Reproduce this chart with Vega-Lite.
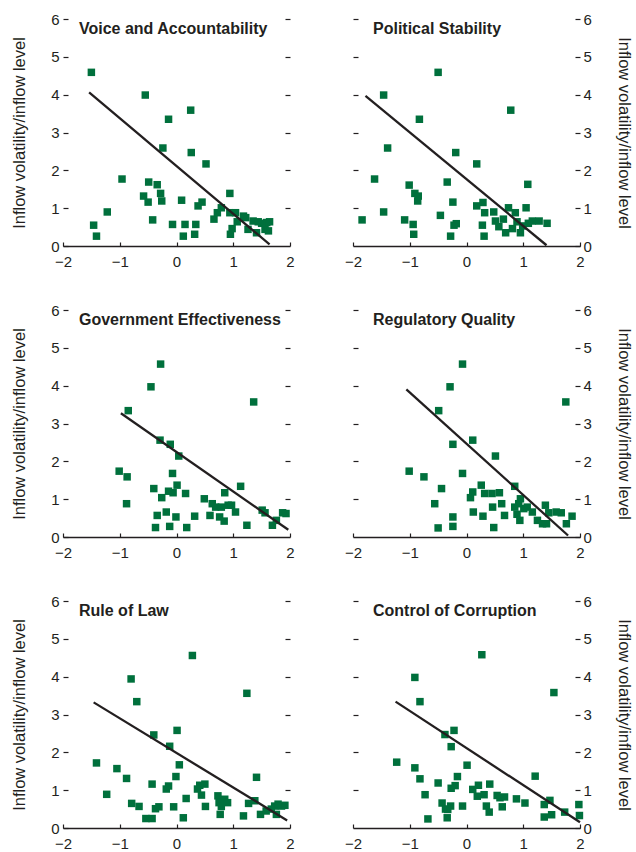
{
  "$schema": "https://vega.github.io/schema/vega-lite/v6.json",
  "background": "white",
  "padding": {"left": 11, "top": 12, "right": 4, "bottom": 0},
  "datasets": {
    "pts": [
      {"panel": "VA", "x": -1.5, "y": 4.59}, {"panel": "VA", "x": -1.46, "y": 0.55}, {"panel": "VA", "x": -1.41, "y": 0.26}, {"panel": "VA", "x": -1.22, "y": 0.9}, {"panel": "VA", "x": -0.96, "y": 1.77}, {"panel": "VA", "x": -0.55, "y": 3.99}, {"panel": "VA", "x": -0.58, "y": 1.32}, {"panel": "VA", "x": -0.5, "y": 1.16}, {"panel": "VA", "x": -0.49, "y": 1.69}, {"panel": "VA", "x": -0.42, "y": 0.69}, {"panel": "VA", "x": -0.34, "y": 1.62}, {"panel": "VA", "x": -0.28, "y": 1.39}, {"panel": "VA", "x": -0.26, "y": 1.19}, {"panel": "VA", "x": -0.24, "y": 2.59}, {"panel": "VA", "x": -0.14, "y": 3.35}, {"panel": "VA", "x": -0.07, "y": 0.57}, {"panel": "VA", "x": 0.09, "y": 1.21}, {"panel": "VA", "x": 0.12, "y": 0.26}, {"panel": "VA", "x": 0.15, "y": 0.57}, {"panel": "VA", "x": 0.25, "y": 3.59}, {"panel": "VA", "x": 0.26, "y": 2.47}, {"panel": "VA", "x": 0.32, "y": 0.31}, {"panel": "VA", "x": 0.34, "y": 0.57}, {"panel": "VA", "x": 0.38, "y": 1.06}, {"panel": "VA", "x": 0.45, "y": 1.16}, {"panel": "VA", "x": 0.52, "y": 2.17}, {"panel": "VA", "x": 0.66, "y": 0.71}, {"panel": "VA", "x": 0.72, "y": 0.88}, {"panel": "VA", "x": 0.79, "y": 1.01}, {"panel": "VA", "x": 0.94, "y": 1.39}, {"panel": "VA", "x": 0.94, "y": 0.88}, {"panel": "VA", "x": 0.95, "y": 0.31}, {"panel": "VA", "x": 0.98, "y": 0.46}, {"panel": "VA", "x": 1.04, "y": 0.88}, {"panel": "VA", "x": 1.07, "y": 0.64}, {"panel": "VA", "x": 1.18, "y": 0.79}, {"panel": "VA", "x": 1.22, "y": 0.75}, {"panel": "VA", "x": 1.26, "y": 0.44}, {"panel": "VA", "x": 1.35, "y": 0.66}, {"panel": "VA", "x": 1.41, "y": 0.35}, {"panel": "VA", "x": 1.44, "y": 0.64}, {"panel": "VA", "x": 1.5, "y": 0.6}, {"panel": "VA", "x": 1.56, "y": 0.44}, {"panel": "VA", "x": 1.59, "y": 0.62}, {"panel": "VA", "x": 1.64, "y": 0.64}, {"panel": "VA", "x": 1.62, "y": 0.4},
      {"panel": "PS", "x": -1.84, "y": 0.69}, {"panel": "PS", "x": -1.62, "y": 1.77}, {"panel": "PS", "x": -1.46, "y": 0.9}, {"panel": "PS", "x": -1.46, "y": 3.99}, {"panel": "PS", "x": -1.39, "y": 2.59}, {"panel": "PS", "x": -1.09, "y": 0.69}, {"panel": "PS", "x": -1.01, "y": 1.61}, {"panel": "PS", "x": -0.94, "y": 0.57}, {"panel": "PS", "x": -0.93, "y": 0.31}, {"panel": "PS", "x": -0.91, "y": 1.39}, {"panel": "PS", "x": -0.85, "y": 1.32}, {"panel": "PS", "x": -0.86, "y": 1.19}, {"panel": "PS", "x": -0.83, "y": 3.35}, {"panel": "PS", "x": -0.5, "y": 4.59}, {"panel": "PS", "x": -0.46, "y": 0.81}, {"panel": "PS", "x": -0.34, "y": 1.69}, {"panel": "PS", "x": -0.28, "y": 0.26}, {"panel": "PS", "x": -0.24, "y": 1.16}, {"panel": "PS", "x": -0.22, "y": 0.55}, {"panel": "PS", "x": -0.19, "y": 2.47}, {"panel": "PS", "x": -0.18, "y": 0.59}, {"panel": "PS", "x": 0.18, "y": 2.17}, {"panel": "PS", "x": 0.18, "y": 1.06}, {"panel": "PS", "x": 0.28, "y": 0.55}, {"panel": "PS", "x": 0.29, "y": 1.15}, {"panel": "PS", "x": 0.32, "y": 0.88}, {"panel": "PS", "x": 0.31, "y": 0.26}, {"panel": "PS", "x": 0.48, "y": 0.9}, {"panel": "PS", "x": 0.51, "y": 0.66}, {"panel": "PS", "x": 0.57, "y": 0.51}, {"panel": "PS", "x": 0.65, "y": 0.71}, {"panel": "PS", "x": 0.69, "y": 0.35}, {"panel": "PS", "x": 0.74, "y": 1.01}, {"panel": "PS", "x": 0.78, "y": 3.59}, {"panel": "PS", "x": 0.81, "y": 0.46}, {"panel": "PS", "x": 0.86, "y": 0.88}, {"panel": "PS", "x": 0.89, "y": 0.64}, {"panel": "PS", "x": 0.95, "y": 0.35}, {"panel": "PS", "x": 0.99, "y": 0.53}, {"panel": "PS", "x": 1.05, "y": 1.01}, {"panel": "PS", "x": 1.08, "y": 1.63}, {"panel": "PS", "x": 1.09, "y": 0.6}, {"panel": "PS", "x": 1.16, "y": 0.66}, {"panel": "PS", "x": 1.28, "y": 0.66}, {"panel": "PS", "x": 1.42, "y": 0.6},
      {"panel": "GE", "x": -1.01, "y": 1.74}, {"panel": "GE", "x": -0.87, "y": 1.59}, {"panel": "GE", "x": -0.88, "y": 0.88}, {"panel": "GE", "x": -0.85, "y": 3.34}, {"panel": "GE", "x": -0.45, "y": 3.97}, {"panel": "GE", "x": -0.4, "y": 1.28}, {"panel": "GE", "x": -0.37, "y": 0.25}, {"panel": "GE", "x": -0.34, "y": 0.57}, {"panel": "GE", "x": -0.28, "y": 4.57}, {"panel": "GE", "x": -0.29, "y": 2.56}, {"panel": "GE", "x": -0.26, "y": 1.04}, {"panel": "GE", "x": -0.18, "y": 0.66}, {"panel": "GE", "x": -0.14, "y": 1.21}, {"panel": "GE", "x": -0.12, "y": 0.28}, {"panel": "GE", "x": -0.11, "y": 2.45}, {"panel": "GE", "x": -0.07, "y": 1.68}, {"panel": "GE", "x": -0.06, "y": 1.17}, {"panel": "GE", "x": -0.01, "y": 0.53}, {"panel": "GE", "x": 0.01, "y": 1.37}, {"panel": "GE", "x": 0.04, "y": 2.14}, {"panel": "GE", "x": 0.16, "y": 1.15}, {"panel": "GE", "x": 0.18, "y": 0.25}, {"panel": "GE", "x": 0.32, "y": 0.55}, {"panel": "GE", "x": 0.49, "y": 1.01}, {"panel": "GE", "x": 0.59, "y": 0.57}, {"panel": "GE", "x": 0.63, "y": 0.88}, {"panel": "GE", "x": 0.69, "y": 0.79}, {"panel": "GE", "x": 0.76, "y": 0.53}, {"panel": "GE", "x": 0.79, "y": 0.79}, {"panel": "GE", "x": 0.84, "y": 0.42}, {"panel": "GE", "x": 0.85, "y": 1.17}, {"panel": "GE", "x": 0.91, "y": 0.84}, {"panel": "GE", "x": 0.97, "y": 0.84}, {"panel": "GE", "x": 1.04, "y": 0.66}, {"panel": "GE", "x": 1.13, "y": 1.34}, {"panel": "GE", "x": 1.24, "y": 0.31}, {"panel": "GE", "x": 1.36, "y": 3.57}, {"panel": "GE", "x": 1.51, "y": 0.71}, {"panel": "GE", "x": 1.56, "y": 0.64}, {"panel": "GE", "x": 1.69, "y": 0.31}, {"panel": "GE", "x": 1.76, "y": 0.44}, {"panel": "GE", "x": 1.87, "y": 0.64}, {"panel": "GE", "x": 1.93, "y": 0.62},
      {"panel": "RQ", "x": -1.01, "y": 1.74}, {"panel": "RQ", "x": -0.75, "y": 1.59}, {"panel": "RQ", "x": -0.56, "y": 0.88}, {"panel": "RQ", "x": -0.5, "y": 0.24}, {"panel": "RQ", "x": -0.49, "y": 3.34}, {"panel": "RQ", "x": -0.44, "y": 1.28}, {"panel": "RQ", "x": -0.29, "y": 3.97}, {"panel": "RQ", "x": -0.24, "y": 0.53}, {"panel": "RQ", "x": -0.24, "y": 0.28}, {"panel": "RQ", "x": -0.24, "y": 2.45}, {"panel": "RQ", "x": -0.07, "y": 4.57}, {"panel": "RQ", "x": -0.07, "y": 1.68}, {"panel": "RQ", "x": 0.07, "y": 1.04}, {"panel": "RQ", "x": 0.11, "y": 1.19}, {"panel": "RQ", "x": 0.11, "y": 2.56}, {"panel": "RQ", "x": 0.12, "y": 0.66}, {"panel": "RQ", "x": 0.26, "y": 1.37}, {"panel": "RQ", "x": 0.29, "y": 0.55}, {"panel": "RQ", "x": 0.32, "y": 1.15}, {"panel": "RQ", "x": 0.45, "y": 1.15}, {"panel": "RQ", "x": 0.46, "y": 0.79}, {"panel": "RQ", "x": 0.48, "y": 0.25}, {"panel": "RQ", "x": 0.51, "y": 2.14}, {"panel": "RQ", "x": 0.58, "y": 1.17}, {"panel": "RQ", "x": 0.62, "y": 0.88}, {"panel": "RQ", "x": 0.67, "y": 0.57}, {"panel": "RQ", "x": 0.85, "y": 0.79}, {"panel": "RQ", "x": 0.85, "y": 1.34}, {"panel": "RQ", "x": 0.89, "y": 0.6}, {"panel": "RQ", "x": 0.92, "y": 0.88}, {"panel": "RQ", "x": 0.94, "y": 0.44}, {"panel": "RQ", "x": 0.95, "y": 1.01}, {"panel": "RQ", "x": 1.01, "y": 0.75}, {"panel": "RQ", "x": 1.07, "y": 0.79}, {"panel": "RQ", "x": 1.16, "y": 0.66}, {"panel": "RQ", "x": 1.25, "y": 0.44}, {"panel": "RQ", "x": 1.34, "y": 0.35}, {"panel": "RQ", "x": 1.39, "y": 0.84}, {"panel": "RQ", "x": 1.41, "y": 0.35}, {"panel": "RQ", "x": 1.45, "y": 0.64}, {"panel": "RQ", "x": 1.58, "y": 0.66}, {"panel": "RQ", "x": 1.67, "y": 0.64}, {"panel": "RQ", "x": 1.75, "y": 3.57}, {"panel": "RQ", "x": 1.76, "y": 0.35}, {"panel": "RQ", "x": 1.86, "y": 0.55},
      {"panel": "RL", "x": -1.41, "y": 1.72}, {"panel": "RL", "x": -1.23, "y": 0.89}, {"panel": "RL", "x": -1.05, "y": 1.57}, {"panel": "RL", "x": -0.88, "y": 1.31}, {"panel": "RL", "x": -0.8, "y": 3.94}, {"panel": "RL", "x": -0.79, "y": 0.65}, {"panel": "RL", "x": -0.7, "y": 3.34}, {"panel": "RL", "x": -0.66, "y": 0.57}, {"panel": "RL", "x": -0.54, "y": 0.25}, {"panel": "RL", "x": -0.43, "y": 1.16}, {"panel": "RL", "x": -0.43, "y": 0.25}, {"panel": "RL", "x": -0.4, "y": 2.46}, {"panel": "RL", "x": -0.37, "y": 0.51}, {"panel": "RL", "x": -0.31, "y": 0.56}, {"panel": "RL", "x": -0.18, "y": 1.03}, {"panel": "RL", "x": -0.14, "y": 1.11}, {"panel": "RL", "x": -0.12, "y": 2.16}, {"panel": "RL", "x": -0.05, "y": 0.56}, {"panel": "RL", "x": -0.01, "y": 1.36}, {"panel": "RL", "x": 0.01, "y": 2.58}, {"panel": "RL", "x": 0.05, "y": 1.67}, {"panel": "RL", "x": 0.12, "y": 0.27}, {"panel": "RL", "x": 0.17, "y": 0.78}, {"panel": "RL", "x": 0.28, "y": 4.56}, {"panel": "RL", "x": 0.37, "y": 1.03}, {"panel": "RL", "x": 0.41, "y": 1.13}, {"panel": "RL", "x": 0.44, "y": 0.87}, {"panel": "RL", "x": 0.5, "y": 1.16}, {"panel": "RL", "x": 0.51, "y": 0.57}, {"panel": "RL", "x": 0.73, "y": 0.85}, {"panel": "RL", "x": 0.75, "y": 0.67}, {"panel": "RL", "x": 0.77, "y": 0.36}, {"panel": "RL", "x": 0.79, "y": 0.57}, {"panel": "RL", "x": 0.85, "y": 0.76}, {"panel": "RL", "x": 0.9, "y": 0.67}, {"panel": "RL", "x": 1.18, "y": 0.32}, {"panel": "RL", "x": 1.24, "y": 3.56}, {"panel": "RL", "x": 1.27, "y": 0.65}, {"panel": "RL", "x": 1.38, "y": 0.72}, {"panel": "RL", "x": 1.41, "y": 1.34}, {"panel": "RL", "x": 1.48, "y": 0.36}, {"panel": "RL", "x": 1.58, "y": 0.45}, {"panel": "RL", "x": 1.67, "y": 0.5}, {"panel": "RL", "x": 1.73, "y": 0.58}, {"panel": "RL", "x": 1.76, "y": 0.36}, {"panel": "RL", "x": 1.79, "y": 0.63}, {"panel": "RL", "x": 1.85, "y": 0.58}, {"panel": "RL", "x": 1.91, "y": 0.6},
      {"panel": "CC", "x": -1.23, "y": 1.74}, {"panel": "CC", "x": -0.91, "y": 3.98}, {"panel": "CC", "x": -0.91, "y": 1.59}, {"panel": "CC", "x": -0.82, "y": 3.34}, {"panel": "CC", "x": -0.82, "y": 1.3}, {"panel": "CC", "x": -0.73, "y": 0.88}, {"panel": "CC", "x": -0.68, "y": 0.24}, {"panel": "CC", "x": -0.5, "y": 1.19}, {"panel": "CC", "x": -0.43, "y": 0.66}, {"panel": "CC", "x": -0.38, "y": 2.47}, {"panel": "CC", "x": -0.37, "y": 0.5}, {"panel": "CC", "x": -0.34, "y": 0.27}, {"panel": "CC", "x": -0.33, "y": 0.49}, {"panel": "CC", "x": -0.28, "y": 0.58}, {"panel": "CC", "x": -0.27, "y": 2.15}, {"panel": "CC", "x": -0.27, "y": 1.05}, {"panel": "CC", "x": -0.22, "y": 2.58}, {"panel": "CC", "x": -0.2, "y": 1.12}, {"panel": "CC", "x": -0.16, "y": 1.36}, {"panel": "CC", "x": -0.07, "y": 0.58}, {"panel": "CC", "x": 0.01, "y": 1.66}, {"panel": "CC", "x": 0.11, "y": 1.02}, {"panel": "CC", "x": 0.19, "y": 0.84}, {"panel": "CC", "x": 0.21, "y": 1.13}, {"panel": "CC", "x": 0.27, "y": 4.58}, {"panel": "CC", "x": 0.31, "y": 0.88}, {"panel": "CC", "x": 0.35, "y": 0.58}, {"panel": "CC", "x": 0.4, "y": 0.42}, {"panel": "CC", "x": 0.41, "y": 1.16}, {"panel": "CC", "x": 0.54, "y": 0.86}, {"panel": "CC", "x": 0.59, "y": 0.8}, {"panel": "CC", "x": 0.63, "y": 0.56}, {"panel": "CC", "x": 0.67, "y": 0.82}, {"panel": "CC", "x": 0.88, "y": 0.77}, {"panel": "CC", "x": 1.03, "y": 0.66}, {"panel": "CC", "x": 1.21, "y": 1.37}, {"panel": "CC", "x": 1.37, "y": 0.29}, {"panel": "CC", "x": 1.37, "y": 0.62}, {"panel": "CC", "x": 1.47, "y": 0.73}, {"panel": "CC", "x": 1.5, "y": 0.35}, {"panel": "CC", "x": 1.54, "y": 3.58}, {"panel": "CC", "x": 1.73, "y": 0.42}, {"panel": "CC", "x": 1.98, "y": 0.62}, {"panel": "CC", "x": 1.99, "y": 0.33}
    ],
    "fit": [
      {"panel": "VA", "x": -1.54, "y": 4.06}, {"panel": "VA", "x": 1.64, "y": 0.04},
      {"panel": "PS", "x": -1.78, "y": 3.97}, {"panel": "PS", "x": 1.41, "y": 0.02},
      {"panel": "GE", "x": -0.98, "y": 3.27}, {"panel": "GE", "x": 1.97, "y": 0.19},
      {"panel": "RQ", "x": -1.06, "y": 3.9}, {"panel": "RQ", "x": 1.79, "y": 0.04},
      {"panel": "RL", "x": -1.46, "y": 3.32}, {"panel": "RL", "x": 1.95, "y": 0.2},
      {"panel": "CC", "x": -1.25, "y": 3.34}, {"panel": "CC", "x": 2.0, "y": 0.15}
    ]
  },
  "columns": 2,
  "spacing": {"row": 64, "column": 63},
  "bounds": "flush",
  "concat": [
    {
      "width": 227, "height": 227,
      "title": {"text": "Voice and Accountability", "dx": 16},
      "layer": [
        {"data": {"name": "pts"}, "transform": [{"filter": "datum.panel == 'VA'"}],
         "mark": {"type": "square", "size": 56, "color": "#00703c", "opacity": 1},
         "encoding": {
           "x": {"field": "x", "type": "quantitative", "scale": {"domain": [-2, 2], "nice": false}, "axis": {"values": [-2, -1.5, -1, -0.5, 0, 0.5, 1, 1.5, 2], "labelExpr": "datum.value % 1 == 0 ? format(datum.value, 'd') : ''", "title": null, "tickSize": -4, "labelPadding": 12, "labelFlush": false}},
           "y": {"field": "y", "type": "quantitative", "scale": {"domain": [0, 6], "nice": false}, "axis": {"orient": "left", "values": [0, 1, 2, 3, 4, 5, 6], "title": "Inflow volatility/inflow level", "domain": false, "tickSize": -5, "labelPadding": 9, "titlePadding": 23}}
         }},
        {"data": {"name": "fit"}, "transform": [{"filter": "datum.panel == 'VA'"}],
         "mark": {"type": "line", "color": "#231f20", "strokeWidth": 2.3},
         "encoding": {
           "x": {"field": "x", "type": "quantitative"},
           "y": {"field": "y", "type": "quantitative", "axis": {"orient": "right", "values": [1, 2, 3, 4, 5, 6], "labels": false, "title": null, "domain": false, "tickSize": -5}}
         }}
      ],
      "resolve": {"axis": {"y": "independent"}}
    },
    {
      "width": 227, "height": 227,
      "title": {"text": "Political Stability", "dx": 20},
      "layer": [
        {"data": {"name": "pts"}, "transform": [{"filter": "datum.panel == 'PS'"}],
         "mark": {"type": "square", "size": 56, "color": "#00703c", "opacity": 1},
         "encoding": {
           "x": {"field": "x", "type": "quantitative", "scale": {"domain": [-2, 2], "nice": false}, "axis": {"values": [-2, -1.5, -1, -0.5, 0, 0.5, 1, 1.5, 2], "labelExpr": "datum.value % 1 == 0 ? format(datum.value, 'd') : ''", "title": null, "tickSize": -4, "labelPadding": 12, "labelFlush": false}},
           "y": {"field": "y", "type": "quantitative", "scale": {"domain": [0, 6], "nice": false}, "axis": {"orient": "left", "values": [1, 2, 3, 4, 5, 6], "labels": false, "title": null, "domain": false, "tickSize": -5}}
         }},
        {"data": {"name": "fit"}, "transform": [{"filter": "datum.panel == 'PS'"}],
         "mark": {"type": "line", "color": "#231f20", "strokeWidth": 2.3},
         "encoding": {
           "x": {"field": "x", "type": "quantitative"},
           "y": {"field": "y", "type": "quantitative", "axis": {"orient": "right", "values": [0, 1, 2, 3, 4, 5, 6], "title": "Inflow volatility/inflow level", "domain": false, "tickSize": -5, "labelPadding": 8, "titlePadding": 24}}
         }}
      ],
      "resolve": {"axis": {"y": "independent"}}
    },
    {
      "width": 227, "height": 227,
      "title": {"text": "Government Effectiveness", "dx": 16},
      "layer": [
        {"data": {"name": "pts"}, "transform": [{"filter": "datum.panel == 'GE'"}],
         "mark": {"type": "square", "size": 56, "color": "#00703c", "opacity": 1},
         "encoding": {
           "x": {"field": "x", "type": "quantitative", "scale": {"domain": [-2, 2], "nice": false}, "axis": {"values": [-2, -1.5, -1, -0.5, 0, 0.5, 1, 1.5, 2], "labelExpr": "datum.value % 1 == 0 ? format(datum.value, 'd') : ''", "title": null, "tickSize": -4, "labelPadding": 12, "labelFlush": false}},
           "y": {"field": "y", "type": "quantitative", "scale": {"domain": [0, 6], "nice": false}, "axis": {"orient": "left", "values": [0, 1, 2, 3, 4, 5, 6], "title": "Inflow volatility/inflow level", "domain": false, "tickSize": -5, "labelPadding": 9, "titlePadding": 23}}
         }},
        {"data": {"name": "fit"}, "transform": [{"filter": "datum.panel == 'GE'"}],
         "mark": {"type": "line", "color": "#231f20", "strokeWidth": 2.3},
         "encoding": {
           "x": {"field": "x", "type": "quantitative"},
           "y": {"field": "y", "type": "quantitative", "axis": {"orient": "right", "values": [1, 2, 3, 4, 5, 6], "labels": false, "title": null, "domain": false, "tickSize": -5}}
         }}
      ],
      "resolve": {"axis": {"y": "independent"}}
    },
    {
      "width": 227, "height": 227,
      "title": {"text": "Regulatory Quality", "dx": 20},
      "layer": [
        {"data": {"name": "pts"}, "transform": [{"filter": "datum.panel == 'RQ'"}],
         "mark": {"type": "square", "size": 56, "color": "#00703c", "opacity": 1},
         "encoding": {
           "x": {"field": "x", "type": "quantitative", "scale": {"domain": [-2, 2], "nice": false}, "axis": {"values": [-2, -1.5, -1, -0.5, 0, 0.5, 1, 1.5, 2], "labelExpr": "datum.value % 1 == 0 ? format(datum.value, 'd') : ''", "title": null, "tickSize": -4, "labelPadding": 12, "labelFlush": false}},
           "y": {"field": "y", "type": "quantitative", "scale": {"domain": [0, 6], "nice": false}, "axis": {"orient": "left", "values": [1, 2, 3, 4, 5, 6], "labels": false, "title": null, "domain": false, "tickSize": -5}}
         }},
        {"data": {"name": "fit"}, "transform": [{"filter": "datum.panel == 'RQ'"}],
         "mark": {"type": "line", "color": "#231f20", "strokeWidth": 2.3},
         "encoding": {
           "x": {"field": "x", "type": "quantitative"},
           "y": {"field": "y", "type": "quantitative", "axis": {"orient": "right", "values": [0, 1, 2, 3, 4, 5, 6], "title": "Inflow volatility/inflow level", "domain": false, "tickSize": -5, "labelPadding": 8, "titlePadding": 24}}
         }}
      ],
      "resolve": {"axis": {"y": "independent"}}
    },
    {
      "width": 227, "height": 227,
      "title": {"text": "Rule of Law", "dx": 16},
      "layer": [
        {"data": {"name": "pts"}, "transform": [{"filter": "datum.panel == 'RL'"}],
         "mark": {"type": "square", "size": 56, "color": "#00703c", "opacity": 1},
         "encoding": {
           "x": {"field": "x", "type": "quantitative", "scale": {"domain": [-2, 2], "nice": false}, "axis": {"values": [-2, -1.5, -1, -0.5, 0, 0.5, 1, 1.5, 2], "labelExpr": "datum.value % 1 == 0 ? format(datum.value, 'd') : ''", "title": null, "tickSize": -4, "labelPadding": 12, "labelFlush": false}},
           "y": {"field": "y", "type": "quantitative", "scale": {"domain": [0, 6], "nice": false}, "axis": {"orient": "left", "values": [0, 1, 2, 3, 4, 5, 6], "title": "Inflow volatility/inflow level", "domain": false, "tickSize": -5, "labelPadding": 9, "titlePadding": 23}}
         }},
        {"data": {"name": "fit"}, "transform": [{"filter": "datum.panel == 'RL'"}],
         "mark": {"type": "line", "color": "#231f20", "strokeWidth": 2.3},
         "encoding": {
           "x": {"field": "x", "type": "quantitative"},
           "y": {"field": "y", "type": "quantitative", "axis": {"orient": "right", "values": [1, 2, 3, 4, 5, 6], "labels": false, "title": null, "domain": false, "tickSize": -5}}
         }}
      ],
      "resolve": {"axis": {"y": "independent"}}
    },
    {
      "width": 227, "height": 227,
      "title": {"text": "Control of Corruption", "dx": 20},
      "layer": [
        {"data": {"name": "pts"}, "transform": [{"filter": "datum.panel == 'CC'"}],
         "mark": {"type": "square", "size": 56, "color": "#00703c", "opacity": 1},
         "encoding": {
           "x": {"field": "x", "type": "quantitative", "scale": {"domain": [-2, 2], "nice": false}, "axis": {"values": [-2, -1.5, -1, -0.5, 0, 0.5, 1, 1.5, 2], "labelExpr": "datum.value % 1 == 0 ? format(datum.value, 'd') : ''", "title": null, "tickSize": -4, "labelPadding": 12, "labelFlush": false}},
           "y": {"field": "y", "type": "quantitative", "scale": {"domain": [0, 6], "nice": false}, "axis": {"orient": "left", "values": [1, 2, 3, 4, 5, 6], "labels": false, "title": null, "domain": false, "tickSize": -5}}
         }},
        {"data": {"name": "fit"}, "transform": [{"filter": "datum.panel == 'CC'"}],
         "mark": {"type": "line", "color": "#231f20", "strokeWidth": 2.3},
         "encoding": {
           "x": {"field": "x", "type": "quantitative"},
           "y": {"field": "y", "type": "quantitative", "axis": {"orient": "right", "values": [0, 1, 2, 3, 4, 5, 6], "title": "Inflow volatility/inflow level", "domain": false, "tickSize": -5, "labelPadding": 8, "titlePadding": 24}}
         }}
      ],
      "resolve": {"axis": {"y": "independent"}}
    }
  ],
  "config": {
    "view": {"stroke": null},
    "axis": {
      "grid": false,
      "labelFont": "Liberation Sans", "labelFontSize": 15, "labelColor": "#231f20",
      "titleFont": "Liberation Sans", "titleFontSize": 16.5, "titleFontWeight": "normal", "titleColor": "#231f20",
      "tickColor": "#231f20", "tickWidth": 1.2, "domainColor": "#231f20", "domainWidth": 1.5
    },
    "title": {
      "anchor": "start", "frame": "group", "font": "Liberation Sans", "fontSize": 16, "fontWeight": "bold", "color": "#231f20",
      "dy": 29, "offset": 0
    }
  }
}
